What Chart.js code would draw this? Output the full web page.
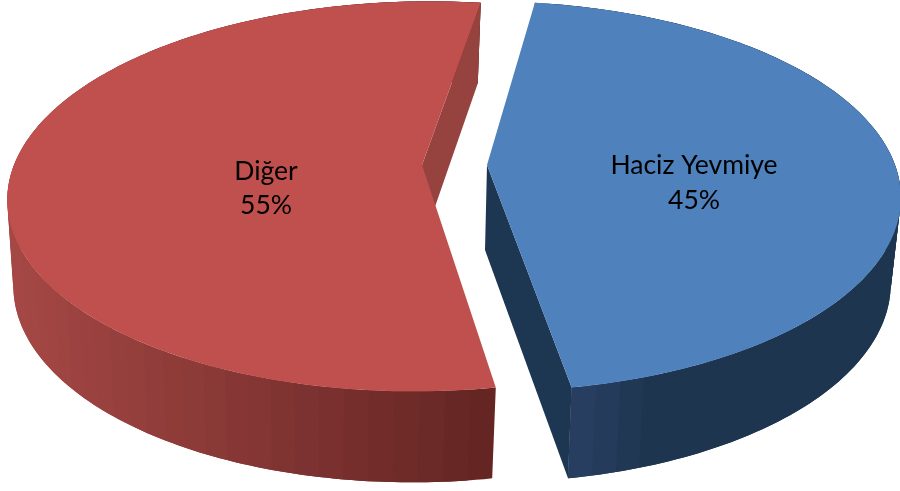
<!DOCTYPE html>
<html>
<head>
<meta charset="utf-8">
<style>
  html, body { margin: 0; padding: 0; background: #fff; }
  #chart { display: block; }
</style>
<script src="https://cdn.jsdelivr.net/npm/chart.js@4"></script>
</head>
<body>
<canvas id="chart" width="900" height="491"></canvas>
<script>
const categories = ['Haciz Yevmiye', 'Diğer'];
const seriesValues = [45, 55];

const topColors = ['#4F81BD', '#C0504D'];
const wallColors = ['#1D3652', '#964340'];
// side colour at the front corner and where the shading ends, by horizontal run in px
const sideNear = [[41, 64, 99], [98, 36, 34]];
const sideFar = [[30, 53, 80], [165, 72, 69]];
const sideRun = [85, 484];

// apex of each exploded slice on the top face
const apexX = [487, 422];
const shearX = [3, -8];
const labelPos = [[694, 165, 200], [266, 171, 205]];

// perspective of the disc: p is the foreshortening
const P = 0.1606;
const topDisc = { w: 408, h: 190, y: 165, dx: 0 };
const bottomDisc = { w: 400, h: 195, y: 250, dx: -2 };

function project(disc, i, a) {
    const s = Math.sin(a), c = Math.cos(a);
    const k = 1 - P * s;
    return [apexX[i] + disc.dx + shearX[i] * s + disc.w * c / k, disc.y + disc.h * s / k];
}

function mix(a, b, t) {
    return `rgb(${a.map((v, j) => Math.round(v + (b[j] - v) * t)).join(',')})`;
}

function poly(ctx, pts, color) {
    ctx.beginPath();
    pts.forEach((p, j) => j ? ctx.lineTo(p[0], p[1]) : ctx.moveTo(p[0], p[1]));
    ctx.closePath();
    ctx.fillStyle = color;
    ctx.fill();
}

function drawSlice(ctx, arc, i) {
    const a0 = arc.startAngle, a1 = arc.endAngle;
    const apexTop = [apexX[i], topDisc.y];
    const apexBottom = [apexX[i] + bottomDisc.dx, bottomDisc.y];
    // front corner of the slice is the rim point nearest the viewer
    const corner = project(topDisc, i, i === 0 ? a1 : a0)[0];

    // outer wall in bands, each one runs on under the next so no seams show
    const n = Math.ceil((a1 - a0) / (Math.PI / 60));
    for (let k = 0; k < n; k++) {
        const u = a0 + (a1 - a0) * k / n;
        const v = Math.min(a1, a0 + (a1 - a0) * (k + 2) / n);
        const midX = project(topDisc, i, a0 + (a1 - a0) * (k + 0.5) / n)[0];
        const t = Math.min(1, Math.abs(midX - corner) / sideRun[i]);
        const rim = [];
        for (let m = 0; m <= 6; m++) rim.push(project(topDisc, i, u + (v - u) * m / 6));
        for (let m = 6; m >= 0; m--) rim.push(project(bottomDisc, i, u + (v - u) * m / 6));
        poly(ctx, rim, mix(sideNear[i], sideFar[i], t));
    }

    // only the cut face at the end angle can be seen
    poly(ctx, [apexTop, project(topDisc, i, a1), project(bottomDisc, i, a1), apexBottom], wallColors[i]);

    // top face
    const pts = [apexTop];
    for (let k = 0; k <= 200; k++) {
        pts.push(project(topDisc, i, a0 + (a1 - a0) * k / 200));
    }
    poly(ctx, pts, arc.options.backgroundColor);
}

const pie3d = {
    id: 'pie3d',
    beforeDatasetDraw() {
        return false;
    },
    afterDatasetsDraw(chart) {
        const ctx = chart.ctx;
        const arcs = chart.getDatasetMeta(0).data;
        const total = seriesValues.reduce((a, b) => a + b, 0);
        ctx.save();
        [1, 0].forEach(i => drawSlice(ctx, arcs[i], i));
        ctx.fillStyle = '#000';
        ctx.font = '26.5px Lato, Carlito, sans-serif';
        ctx.textAlign = 'center';
        ctx.textBaseline = 'middle';
        categories.forEach((name, i) => {
            ctx.fillText(name, labelPos[i][0], labelPos[i][1]);
            ctx.fillText(Math.round(seriesValues[i] / total * 100) + '%', labelPos[i][0], labelPos[i][2]);
        });
        ctx.restore();
    }
};

new Chart(document.getElementById('chart').getContext('2d'), {
    type: 'pie',
    data: {
        labels: categories,
        datasets: [{ data: seriesValues, backgroundColor: topColors, borderWidth: 0 }]
    },
    options: {
        responsive: false,
        animation: false,
        rotation: 8.3,
        plugins: {
            legend: { display: false },
            tooltip: { enabled: false }
        }
    },
    plugins: [pie3d]
});
</script>
</body>
</html>
